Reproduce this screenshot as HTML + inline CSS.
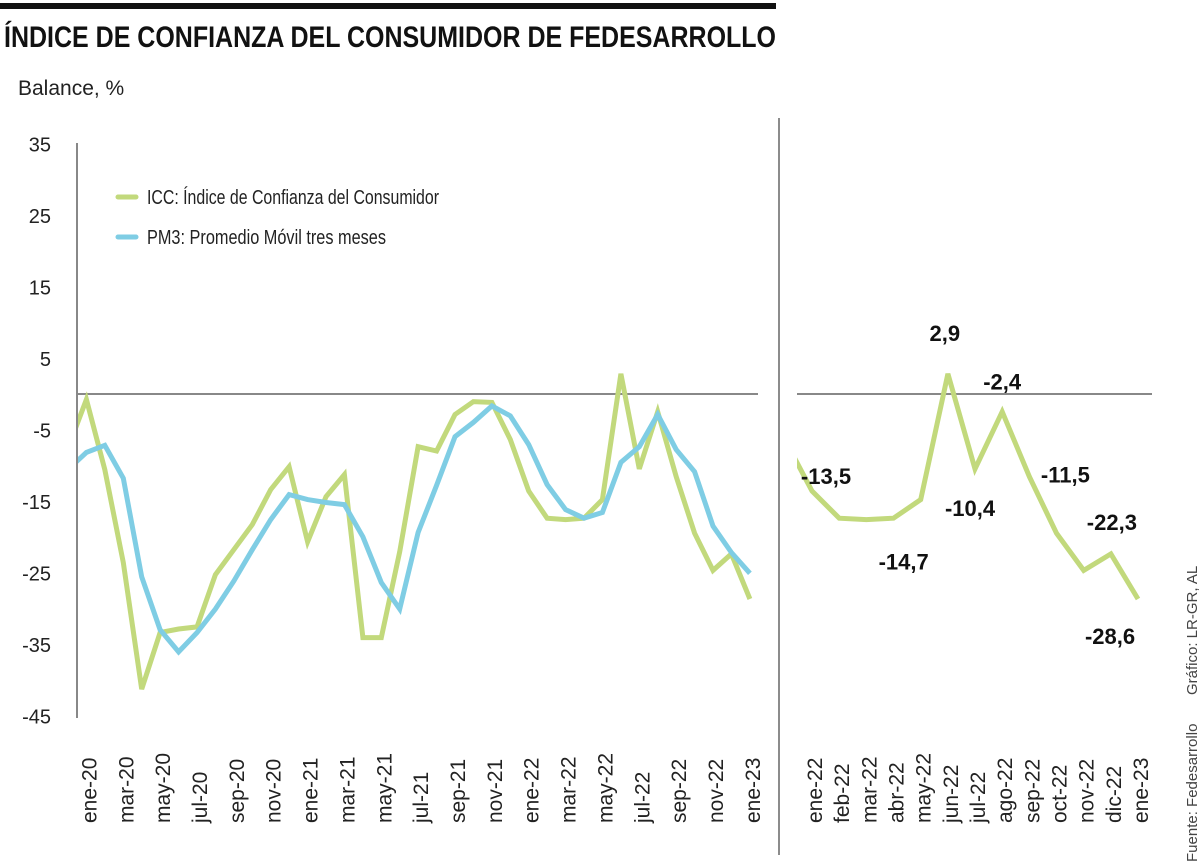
<!DOCTYPE html>
<html><head><meta charset="utf-8"><style>
html,body{margin:0;padding:0;background:#fff;}
svg{display:block;}
.t{font-family:"Liberation Sans Narrow","Liberation Sans",sans-serif;}
.r{font-family:"Liberation Sans",sans-serif;}
</style></head><body>
<svg id="chart" width="1200" height="865" viewBox="0 0 1200 865" xmlns="http://www.w3.org/2000/svg">
<rect x="0" y="3" width="776" height="6" fill="#111"/>
<text class="t" x="4" y="47" font-size="30" font-weight="bold" fill="#111" textLength="772" lengthAdjust="spacingAndGlyphs">ÍNDICE DE CONFIANZA DEL CONSUMIDOR DE FEDESARROLLO</text>
<text class="t" x="18" y="95" font-size="21" fill="#222">Balance, %</text>
<line x1="77" y1="143" x2="77" y2="718" stroke="#888" stroke-width="2"/>
<line x1="779" y1="118" x2="779" y2="855" stroke="#666" stroke-width="1.5"/>
<line x1="77" y1="394" x2="758" y2="394" stroke="#888" stroke-width="2"/>
<line x1="797" y1="394" x2="1152" y2="394" stroke="#888" stroke-width="2"/>
<g>
<line x1="118" y1="197" x2="136" y2="197" stroke="#c2d97c" stroke-width="5" stroke-linecap="round"/>
<text class="t" x="147" y="204" font-size="20" fill="#222" textLength="292" lengthAdjust="spacingAndGlyphs">ICC: Índice de Confianza del Consumidor</text>
<line x1="118" y1="237" x2="136" y2="237" stroke="#7fcde4" stroke-width="5" stroke-linecap="round"/>
<text class="t" x="147" y="244" font-size="20" fill="#222" textLength="239" lengthAdjust="spacingAndGlyphs">PM3: Promedio Móvil tres meses</text>
</g>
<g id="layer"></g>
<text class="r" transform="translate(1197,862) rotate(-90)" font-size="15" fill="#444">Fuente: Fedesarrollo</text>
<text class="r" transform="translate(1197,695) rotate(-90)" font-size="15" fill="#444">Gráfico: LR-GR, AL</text>
</svg>
<script>
const months = ["dic-19","ene-20","feb-20","mar-20","abr-20","may-20","jun-20","jul-20","ago-20","sep-20","oct-20","nov-20","dic-20","ene-21","feb-21","mar-21","abr-21","may-21","jun-21","jul-21","ago-21","sep-21","oct-21","nov-21","dic-21","ene-22","feb-22","mar-22","abr-22","may-22","jun-22","jul-22","ago-22","sep-22","oct-22","nov-22","dic-22","ene-23"];
const icc = [-7.5,-0.7,-10.5,-23.5,-41.2,-33.3,-32.8,-32.5,-25.2,-21.7,-18.2,-13.3,-10.1,-20.6,-14.3,-11.2,-34,-34,-22,-7.3,-7.9,-2.8,-1,-1.1,-6.3,-13.5,-17.3,-17.5,-17.3,-14.7,2.9,-10.4,-2.4,-11.5,-19.4,-24.6,-22.3,-28.6];
const pm3 = [-10.5,-8.1,-7.1,-11.7,-25.5,-32.9,-36,-33.3,-30,-26.1,-21.7,-17.5,-14,-14.7,-15.1,-15.4,-19.9,-26.3,-30,-19.3,-12.7,-5.9,-3.9,-1.6,-3,-7,-12.6,-16.1,-17.3,-16.5,-9.5,-7.3,-2.8,-7.7,-10.8,-18.4,-22.1,-25];
const yTicks = [35,25,15,5,-5,-15,-25,-35,-45];
const leftTickMonths = ["ene-20","mar-20","may-20","jul-20","sep-20","nov-20","ene-21","mar-21","may-21","jul-21","sep-21","nov-21","ene-22","mar-22","may-22","jul-22","sep-22","nov-22","ene-23"];
const rightMonths = months.slice(24); // dic-21 .. ene-23
const rightLabels = ["-13,5","2,9","-2,4","-10,4","-14,7","-11,5","-22,3","-28,6"];
const rightLabelMonths = ["ene-22","jun-22","ago-22","jul-22","may-22","sep-22","dic-22","ene-23"];

const NS="http://www.w3.org/2000/svg";
const layer=document.getElementById('layer');
const y = v => 394.5 - v*7.15;
const xL = i => 86.4 + (i-1)*18.43;
const xR = i => 812 + (i-1)*27.17;
function mk(tag, attrs){const e=document.createElementNS(NS,tag);for(const k in attrs)e.setAttribute(k,attrs[k]);return e;}

const defs=mk('defs',{});
const c1=mk('clipPath',{id:'cl'});c1.appendChild(mk('rect',{x:78,y:100,width:700,height:700}));
const c2=mk('clipPath',{id:'cr'});c2.appendChild(mk('rect',{x:797,y:100,width:380,height:700}));
defs.appendChild(c1);defs.appendChild(c2);layer.appendChild(defs);

yTicks.forEach(v=>{
  const t=mk('text',{x:51,y:y(v)+7,'text-anchor':'end','font-size':20,fill:'#222',class:'t'});
  t.textContent=v;
  
  
  layer.appendChild(t);
});
leftTickMonths.forEach(m=>{
  const i=months.indexOf(m);const X=xL(i)+10;
  const t=mk('text',{transform:`translate(${X},823) rotate(-90)`,'font-size':21,fill:'#222',class:'r'});
  t.textContent=m;
  
  
  layer.appendChild(t);
});
rightMonths.forEach((m,k)=>{
  if(k===0)return;
  const X=xR(k)+10;
  const t=mk('text',{transform:`translate(${X},823) rotate(-90)`,'font-size':21,fill:'#222',class:'r'});
  t.textContent=m;
  
  
  layer.appendChild(t);
});
function line(vals,xf,color,clip,name){
  const d=vals.map((v,i)=>(i?'L':'M')+xf(i).toFixed(1)+','+y(v).toFixed(1)).join(' ');
  const p=mk('path',{d:d,fill:'none',stroke:color,'stroke-width':5,'stroke-linejoin':'miter','clip-path':`url(#${clip})`});
  
  
  layer.appendChild(p);
}
line(icc,xL,'#c2d97c','cl','icc-line');
line(pm3,xL,'#7fcde4','cl','pm3-line');
const rightVals=icc.slice(24);
line(rightVals,xR,'#c2d97c','cr','icc-line-detail');
const offs={"ene-22":[14,-14],"jun-22":[-3,-40],"ago-22":[0,-29],"jul-22":[-5,40],"may-22":[-17,63],"sep-22":[36,-1],"dic-22":[1,-31],"ene-23":[-28,38]};
rightLabelMonths.forEach((m,k)=>{
  const i=rightMonths.indexOf(m);const o=offs[m]||[0,-20];
  const t=mk('text',{x:xR(i)+o[0],y:y(rightVals[i])+o[1]+7,'text-anchor':'middle','font-size':22,'font-weight':'bold',fill:'#111',class:'t'});
  t.textContent=rightLabels[k];
  
  
  layer.appendChild(t);
});
</script>
</body></html>
